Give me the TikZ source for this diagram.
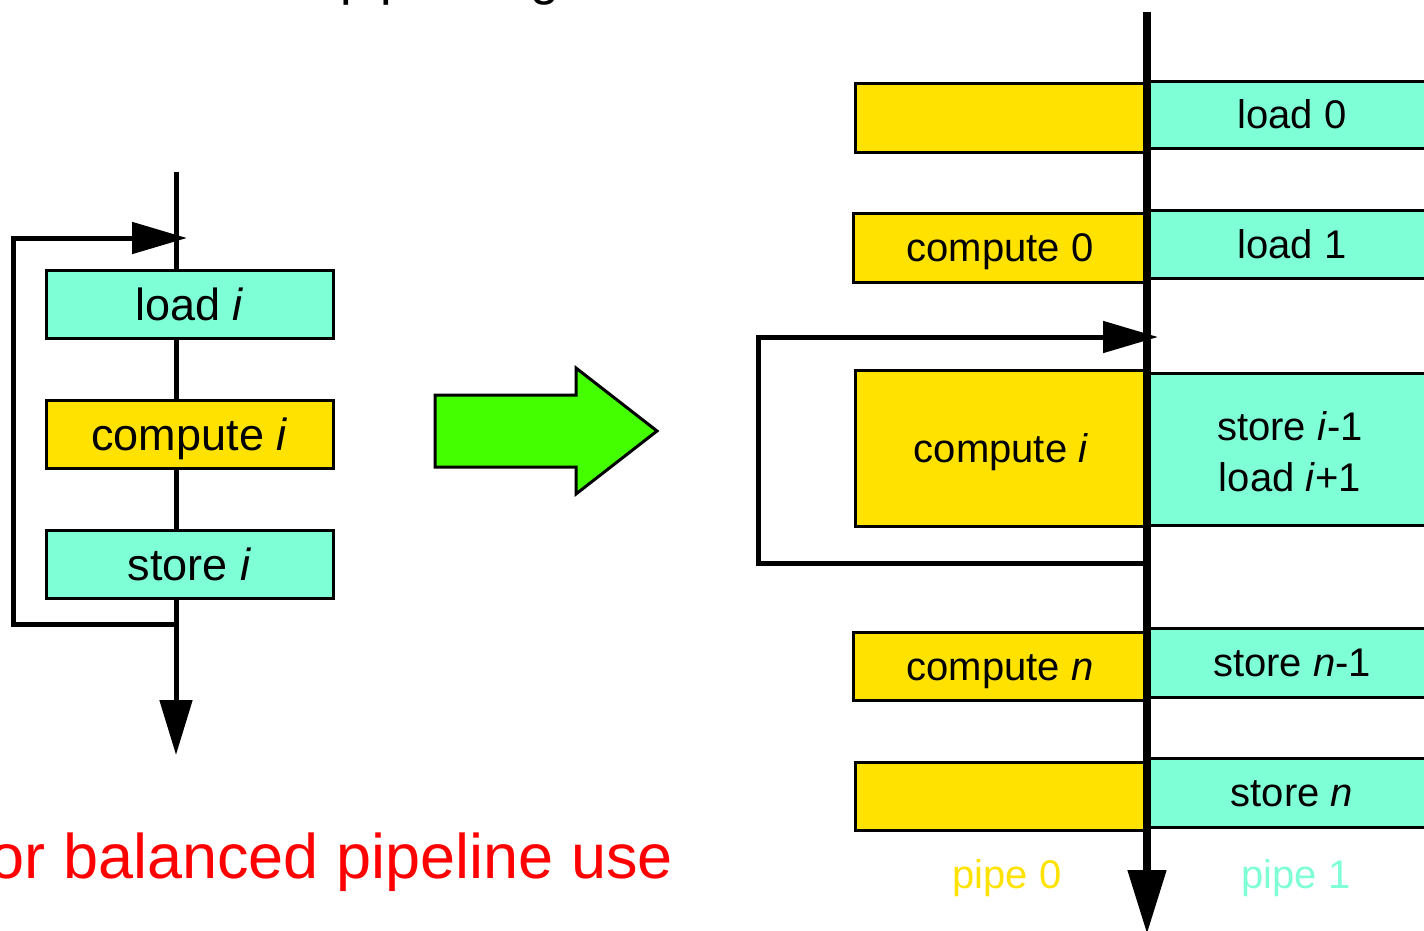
\documentclass[tikz,border=0pt]{standalone}
\usepackage{fontspec}
\setmainfont{Liberation Sans}
\usetikzlibrary{arrows.meta}
\definecolor{pipecyan}{RGB}{127,255,214}
\definecolor{pipeyellow}{RGB}{255,226,0}
\definecolor{bigarrow}{RGB}{68,255,0}
\begin{document}
\begin{tikzpicture}[x=1pt,y=-1pt,
  stagebox/.style={draw=black, line width=3pt, inner sep=0pt, align=center},
  bigtext/.style={font=\fontsize{45}{54}\selectfont, text height=32.2pt, text depth=0pt},
  smalltext/.style={font=\fontsize{40}{51}\selectfont, text height=28.6pt, text depth=0pt},
  lineword/.style={anchor=base, inner sep=0pt, font=\fontsize{40}{51}\selectfont},
  cyanbox/.style={stagebox, fill=pipecyan},
  yellowbox/.style={stagebox, fill=pipeyellow},
  trunk/.style={line width=5pt},
  looptip/.style={-{Triangle[length=55pt,width=31pt]}}]
\useasboundingbox (0,0) rectangle (1424,930);
\clip (0,0) rectangle (1424,930);

% heading line, mostly above the page
\node[anchor=base west, inner sep=0pt, font=\fontsize{52}{60}\selectfont] (heading) at (340,-6) {pipelining};

% ---- sequential loop ----
\coordinate (ltop) at (176,172);
\coordinate (lbot) at (176,755);
\coordinate (lexit) at (176,624);
\coordinate (lcorner) at (13,238);
\coordinate (lentry) at (187,238);
\draw[trunk, -{Triangle[length=55pt,width=32pt]}] (ltop) -- (lbot);
\draw[trunk, looptip] (lexit) -| (lcorner) -- (lentry);

\node[cyanbox, bigtext, minimum width=287pt, minimum height=68pt] (load) at (189.5,304) {load \textit{i}};
\node[yellowbox, bigtext, minimum width=287pt, minimum height=68pt] (compute) at (189.5,434) {compute \textit{i}};
\node[cyanbox, bigtext, minimum width=287pt, minimum height=68pt] (store) at (189.5,564) {store \textit{i}};

% ---- transformation arrow ----
\draw[line width=3pt, fill=bigarrow, line join=miter]
  (435,395) -- (576,395) -- (576,368) -- (657,431) -- (576,494) -- (576,467) -- (435,467) -- cycle;

\node[anchor=base east, inner sep=0pt, text=red, font=\fontsize{63}{70}\selectfont] (caption) at (673,878) {For balanced pipeline use};

% ---- pipelined loop ----
\node[yellowbox, minimum width=292pt, minimum height=69pt] (y0) at (1001,117.5) {};
\node[cyanbox, smalltext, minimum width=290pt, minimum height=67pt] (c0) at (1292,114.5) {load 0};

\node[yellowbox, smalltext, minimum width=294pt, minimum height=69pt] (y1) at (1000,247.5) {compute 0};
\node[cyanbox, smalltext, minimum width=290pt, minimum height=68pt] (c1) at (1292,244) {load 1};

\node[yellowbox, smalltext, minimum width=292pt, minimum height=156pt] (y2) at (1001,448) {compute \textit{i}};
\node[cyanbox, minimum width=290pt, minimum height=152pt] (c2) at (1292,449) {};
\node[lineword] (c2store) at (1290,440) {store \textit{i}-1};
\node[lineword] (c2load) at (1290,491) {load \textit{i}+1};

\node[yellowbox, smalltext, minimum width=294pt, minimum height=68pt] (y3) at (1000,666) {compute \textit{n}};
\node[cyanbox, smalltext, minimum width=290pt, minimum height=69pt] (c3) at (1292,662.5) {store \textit{n}-1};

\node[yellowbox, minimum width=292pt, minimum height=68pt] (y4) at (1001,796) {};
\node[cyanbox, smalltext, minimum width=290pt, minimum height=69pt] (c4) at (1292,792.5) {store \textit{n}};

\coordinate (rtop) at (1147,12);
\coordinate (rbot) at (1147,934);
\coordinate (rexit) at (1147,563);
\coordinate (rcorner) at (758,337);
\coordinate (rentry) at (1158,337);
\draw[line width=8pt, -{Triangle[length=64pt,width=37pt]}] (rtop) -- (rbot);
\draw[trunk, looptip] (rexit) -| (rcorner) -- (rentry);

\node[anchor=base, inner sep=0pt, text=pipeyellow, font=\fontsize{40}{48}\selectfont] (pipe0) at (1007,888) {pipe 0};
\node[anchor=base, inner sep=0pt, text=pipecyan, font=\fontsize{40}{48}\selectfont] (pipe1) at (1296,888) {pipe 1};
\end{tikzpicture}
\end{document}
